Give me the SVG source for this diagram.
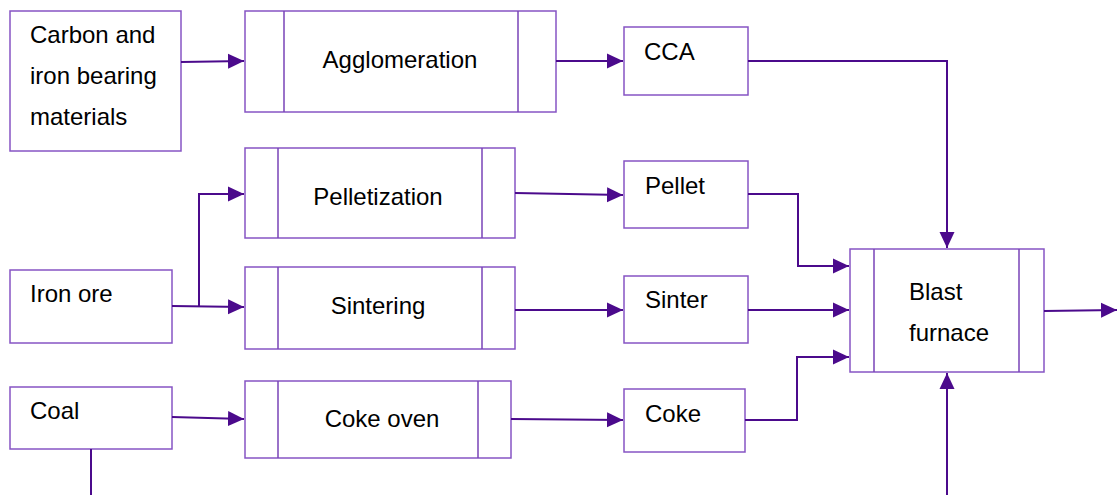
<svg xmlns="http://www.w3.org/2000/svg" width="1118" height="495" viewBox="0 0 1118 495">
<defs>
<marker id="ah" markerUnits="userSpaceOnUse" markerWidth="17" markerHeight="17" viewBox="0 0 17 17" refX="16" refY="8.5" orient="auto">
<path d="M0,1 L16,8.5 L0,16 Z" fill="#4b0a8c"/>
</marker>
<style>
.box{fill:#fff;stroke:#8654c4;stroke-width:1.5}
.div{stroke:#7a44b8;stroke-width:1.5;fill:none}
.t{font-family:"Liberation Sans",Arial,sans-serif;font-size:24px;fill:#000}
.c{text-anchor:middle}
.conn path{fill:none;stroke:#4b0a8c;stroke-width:2}
.a{marker-end:url(#ah)}
</style>
</defs>
<rect width="1118" height="495" fill="#fff"/>
<g id="carbon"><rect class="box" x="10" y="11" width="171" height="140"/>
<text class="t" x="30" y="43">Carbon and</text><text class="t" x="30" y="84">iron bearing</text><text class="t" x="30" y="125">materials</text></g>
<g id="agglomeration"><rect class="box" x="245" y="11" width="311" height="101"/><path class="div" d="M284,11V112M518,11V112"/>
<text class="t c" x="400" y="68">Agglomeration</text></g>
<g id="cca"><rect class="box" x="624" y="27" width="124" height="68"/><text class="t" x="644" y="60">CCA</text></g>
<g id="pelletization"><rect class="box" x="245" y="148" width="270" height="90"/><path class="div" d="M278,148V238M482,148V238"/>
<text class="t c" x="378" y="205">Pelletization</text></g>
<g id="pellet"><rect class="box" x="624" y="161" width="124" height="67"/><text class="t" x="645" y="194">Pellet</text></g>
<g id="ironore"><rect class="box" x="10" y="270" width="162" height="73"/><text class="t" x="30" y="302">Iron ore</text></g>
<g id="sintering"><rect class="box" x="245" y="267" width="270" height="82"/><path class="div" d="M278,267V349M482,267V349"/>
<text class="t c" x="378" y="314">Sintering</text></g>
<g id="sinter"><rect class="box" x="624" y="276" width="124" height="67"/><text class="t" x="645" y="308">Sinter</text></g>
<g id="coal"><rect class="box" x="10" y="387" width="162" height="62"/><text class="t" x="30" y="419">Coal</text></g>
<g id="cokeoven"><rect class="box" x="245" y="381" width="266" height="77"/><path class="div" d="M278,381V458M478,381V458"/>
<text class="t c" x="382" y="427">Coke oven</text></g>
<g id="coke"><rect class="box" x="624" y="389" width="121" height="63"/><text class="t" x="645" y="422">Coke</text></g>
<g id="blastfurnace"><rect class="box" x="850" y="249" width="194" height="123"/><path class="div" d="M874,249V372M1019,249V372"/>
<text class="t" x="909" y="300">Blast</text><text class="t" x="909" y="341">furnace</text></g>
<g class="conn">
<path class="a" d="M181,62L244,61"/>
<path class="a" d="M556,61L623,61"/>
<path class="a" d="M748,61H947V248"/>
<path class="a" d="M172,306L244,307"/>
<path class="a" d="M199,306V194H244"/>
<path class="a" d="M515,193L623,195"/>
<path class="a" d="M748,194H798V266H849"/>
<path class="a" d="M515,310L623,310"/>
<path class="a" d="M748,310L849,310"/>
<path class="a" d="M172,417L244,419"/>
<path class="a" d="M511,419L623,420"/>
<path class="a" d="M745,420H797V357H849"/>
<path d="M91,449V495"/>
<path class="a" d="M947,495V373"/>
<path class="a" d="M1044,311L1117,310"/>
</g>
</svg>
